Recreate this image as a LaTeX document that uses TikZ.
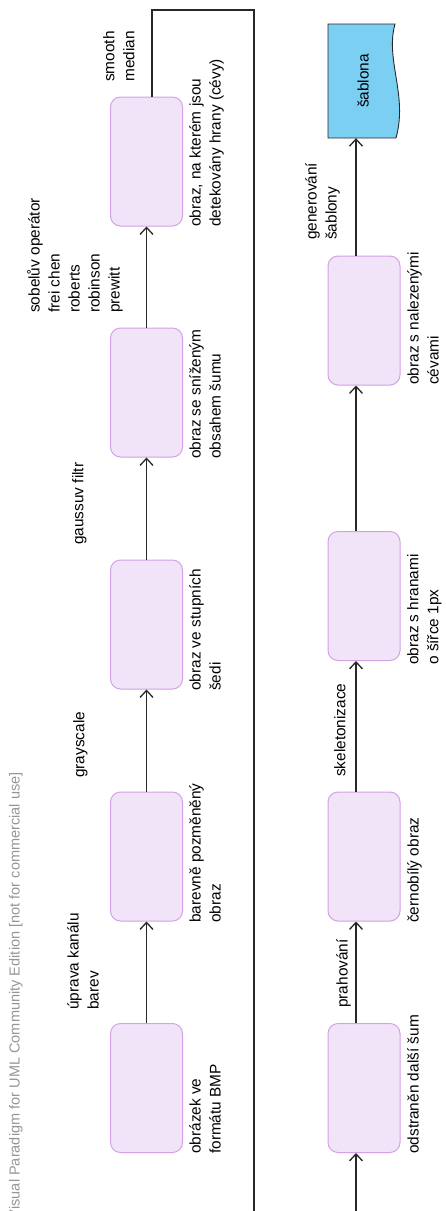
\documentclass[tikz,border=0pt]{standalone}
\usepackage{fontspec}
\setmainfont{Liberation Sans}
\usepackage{graphicx}
\usetikzlibrary{arrows.meta,calc}
\definecolor{boxfill}{RGB}{242,228,248}
\definecolor{boxline}{RGB}{212,160,230}
\definecolor{docfill}{RGB}{122,207,243}
\definecolor{wmgray}{RGB}{150,150,150}
\definecolor{ln}{RGB}{40,40,40}
\tikzset{
 stage/.style={draw=boxline, fill=boxfill, rounded corners=10pt, minimum width=72pt, minimum height=129pt, inner sep=0pt, line width=1pt},
 lbl/.style={rotate=90, anchor=north west, align=left, inner sep=0pt, font=\fontsize{15.4}{20}\selectfont, text=black},
 flow/.style={draw=ln, line width=1.1pt, -{Straight Barb[length=7pt,width=13pt,line width=1.3pt]}},
}
\begin{document}
\begin{tikzpicture}[x=1pt,y=-1pt]
\useasboundingbox (0,0) rectangle (445,1211);
\clip (0,0) rectangle (445,1211);
% watermark
\node[rotate=90, anchor=north east, inner sep=0pt, font=\fontsize{14.55}{16}\selectfont, text=wmgray] (wm) at (9,772) {Visual Paradigm for UML Community Edition [not for commercial use]};
% top row (first half)
\node[stage] (A) at (146.5,161.5) {};
\node[stage] (B) at (146.5,392.5) {};
\node[stage] (C) at (146.5,624.5) {};
\node[stage] (D) at (146.5,856.5) {};
\node[stage] (E) at (146.5,1088) {};
% second half
\node[stage] (F) at (364,1088) {};
\node[stage] (G) at (364,856.5) {};
\node[stage] (H) at (364,596) {};
\node[stage] (I) at (364,320.5) {};
% document
\draw[draw=ln, fill=docfill, line width=0.9pt] (328,24) -- (395,24) .. controls (385,60) and (408,95) .. (396,138) -- (328,138) -- cycle;
\node[minimum width=70pt, minimum height=114pt, inner sep=0pt, font=\fontsize{15.4}{20}\selectfont] (S) at (363,81) {\rotatebox{90}{šablona}};
% box labels
\node[lbl] (lA) at (189,227) {obraz, na kterém jsou\\detekovány hrany (cévy)};
\node[lbl] (lB) at (189,459) {obraz se sníženým\\obsahem šumu};
\node[lbl] (lC) at (189,691) {obraz ve stupních\\šedi};
\node[lbl] (lD) at (189,923) {barevně pozměněný\\obraz};
\node[lbl] (lE) at (189,1154) {obrázek ve\\formátu BMP};
\node[lbl] (lF) at (407,1154) {odstraněn další šum};
\node[lbl] (lG) at (407,923) {černobílý obraz};
\node[lbl] (lH) at (407,665) {obraz s hranami\\o šířce 1px};
\node[lbl] (lI) at (407,385) {obraz s nalezenými\\cévami};
% transition labels
\node[lbl] (t1) at (67,1010) {úprava kanálu\\barev};
\node[lbl] (t2) at (73,778) {grayscale};
\node[lbl] (t3) at (72,545) {gaussuv filtr};
\node[lbl] (t4) at (27,313) {sobelův operátor\\frei chen\\roberts\\robinson\\prewitt};
\node[lbl] (t5) at (103,82) {smooth\\median};
\node[lbl] (t6) at (336,1008) {prahování};
\node[lbl] (t7) at (334,777) {skeletonizace};
\node[lbl] (t8) at (305,240) {generování\\šablony};
% connectors
\draw[flow] (E.north) -- (D.south);
\draw[flow] (D.north) -- (C.south);
\draw[flow] (C.north) -- (B.south);
\draw[flow] (B.north) -- (A.south);
\draw[flow] ($(A.north)+(5.5,0)$) |- (254,10) -- (254,1240) -| ($(F.south)+(-8,0)$);
\draw[flow] ($(F.north)+(-8,0)$) -- ($(G.south)+(-8,0)$);
\draw[flow] ($(G.north)+(-8,0)$) -- ($(H.south)+(-8,0)$);
\draw[flow] ($(H.north)+(-8,0)$) -- ($(I.south)+(-8,0)$);
\draw[flow] ($(I.north)+(-8,0)$) -- ($(S.south)+(-7,0)$);
\end{tikzpicture}
\end{document}
